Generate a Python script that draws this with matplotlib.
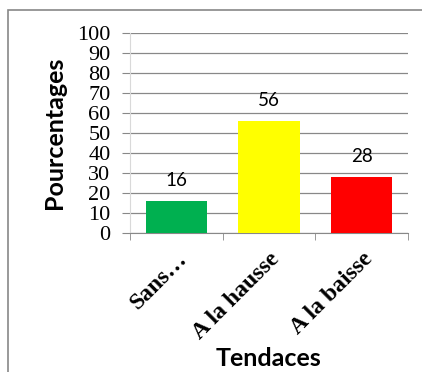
import matplotlib
matplotlib.use("Agg")
import matplotlib.pyplot as plt
from matplotlib.patches import Rectangle

categories = ["Sans…", "A la hausse", "A la baisse"]
values = [16, 56, 28]
colors = ["#00B050", "#FFFF00", "#FF0000"]
yticks = [0, 10, 20, 30, 40, 50, 60, 70, 80, 90, 100]

W, H = 422, 372
fig = plt.figure(figsize=(W/100, H/100), dpi=100)
fig.patch.set_facecolor("white")

# outer border
fig.add_artist(Rectangle((8/W, -0.1), 1.2, 1 - 10/H + 0.1, transform=fig.transFigure,
                         fill=False, edgecolor="#888888", linewidth=1.2))

ax = fig.add_axes([130/W, 1 - 233/H, (408-130)/W, (233-33)/H])
x = range(len(categories))
ax.bar(x, values, width=0.66, color=colors, zorder=3)
ax.set_xlim(-0.5, 2.5)
ax.set_ylim(0, 100)
ax.set_yticks(yticks)
ax.set_yticklabels([str(v) for v in yticks], family="Liberation Serif", fontsize=16)
ax.tick_params(axis="y", length=6, color="#888888", pad=8)
ax.grid(axis="y", color="#888888", linewidth=0.9, zorder=0)

ax.set_xticks([-0.5, 0.5, 1.5, 2.5], minor=True)
ax.set_xticks(list(x))
ax.set_xticklabels(categories, rotation=45, ha="right", rotation_mode="anchor",
                   family="Liberation Serif", fontweight="bold", fontsize=17)
ax.tick_params(axis="x", which="major", length=0, pad=11)
ax.tick_params(axis="x", which="minor", length=5, color="#888888")

for s in ["top", "right"]:
    ax.spines[s].set_visible(False)
ax.spines["left"].set_color("#D9D9D9")
ax.spines["bottom"].set_color("#888888")

for xi, v in zip(x, values):
    ax.text(xi, v + 6, str(v), ha="center", va="bottom", family="Lato", fontsize=13.5)

fig.text(55/W, 1 - 133/H, "Pourcentages", rotation=90, ha="center", va="center",
         family="Lato", fontweight="bold", fontsize=18)
fig.text(268/W, 1 - 358/H, "Tendaces", ha="center", va="center",
         family="Lato", fontweight="bold", fontsize=18)

fig.savefig("out.png", dpi=100)
